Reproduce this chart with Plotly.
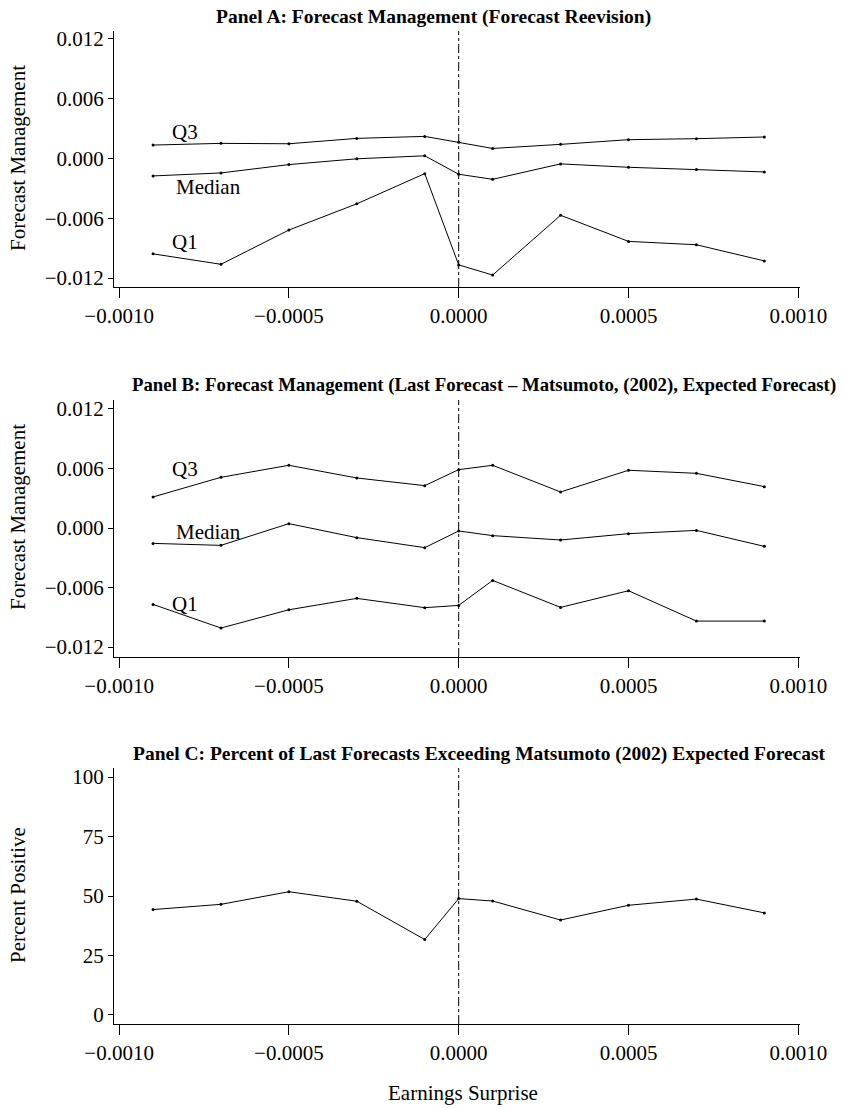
import plotly.graph_objects as go

# ---------------- data ----------------
surprise = [-0.0009, -0.0007, -0.0005, -0.0003, -0.0001, 0.0,
            0.0001, 0.0003, 0.0005, 0.0007, 0.0009]

a_q3 = [0.00135, 0.00152, 0.00148, 0.00202, 0.00222, 0.00162,
        0.00101, 0.00142, 0.00189, 0.00199, 0.00216]
a_median = [-0.00175, -0.00145, -0.00061, -0.00003, 0.00027, -0.00158,
            -0.00209, -0.00054, -0.00088, -0.00111, -0.00135]
a_q1 = [-0.00957, -0.01062, -0.00718, -0.00455, -0.00152, -0.01068,
        -0.01170, -0.00570, -0.00832, -0.00866, -0.01028]

b_q3 = [0.00313, 0.00511, 0.00632, 0.00504, 0.00427, 0.00588,
        0.00632, 0.00363, 0.00582, 0.00551, 0.00417]
b_median = [-0.00155, -0.00175, 0.00044, -0.00097, -0.00198, -0.00030,
            -0.00077, -0.00121, -0.00057, -0.00024, -0.00185]
b_q1 = [-0.00770, -0.01008, -0.00824, -0.00709, -0.00803, -0.00780,
        -0.00528, -0.00800, -0.00632, -0.00938, -0.00938]

c_pct = [44.3, 46.5, 51.8, 47.8, 31.7, 48.9, 47.9, 39.9, 46.1, 48.7, 42.9]

x_tickvals = [-0.0010, -0.0005, 0.0, 0.0005, 0.0010]
x_ticktext = ["\u22120.0010", "\u22120.0005", "0.0000", "0.0005", "0.0010"]
fm_tickvals = [0.012, 0.006, 0.0, -0.006, -0.012]
fm_ticktext = ["0.012", "0.006", "0.000", "\u22120.006", "\u22120.012"]
pct_tickvals = [100, 75, 50, 25, 0]
pct_ticktext = ["100", "75", "50", "25", "0"]

titles = ["Panel A: Forecast Management (Forecast Reevision)",
          "Panel B: Forecast Management (Last Forecast \u2013 Matsumoto, (2002), Expected Forecast)",
          "Panel C: Percent of Last Forecasts Exceeding Matsumoto (2002) Expected Forecast"]

# ---------------- figure ----------------
W, H = 842, 1108
FONT = "Liberation Serif"

def fy(px):
    return 1 - px / H

def fx(px):
    return px / W

fig = go.Figure()

line_style = dict(color="black", width=1)
marker_style = dict(color="black", size=3)

def add_series(y, xa, ya):
    fig.add_trace(go.Scatter(x=surprise, y=y, mode="lines+markers",
                             line=line_style, marker=marker_style,
                             xaxis=xa, yaxis=ya, showlegend=False,
                             hoverinfo="skip"))

for s in (a_q3, a_median, a_q1):
    add_series(s, "x", "y")
for s in (b_q3, b_median, b_q1):
    add_series(s, "x2", "y2")
add_series(c_pct, "x3", "y3")

x_dom = [fx(114), fx(800)]
x_range = [-0.001015, 0.001005]

def xaxis(anchor):
    return dict(domain=x_dom, range=x_range, anchor=anchor, automargin=False,
                tickvals=x_tickvals, ticktext=x_ticktext,
                ticks="outside", ticklen=10, tickwidth=1, tickcolor="black",
                showline=True, linecolor="black", linewidth=1,
                showgrid=False, zeroline=False,
                tickfont=dict(family=FONT, size=21, color="black"))

def yaxis(anchor, dom, rng, tv, tt):
    return dict(domain=dom, range=rng, anchor=anchor, automargin=False,
                tickvals=tv, ticktext=tt,
                ticks="outside", ticklen=5, tickwidth=1, tickcolor="black",
                showline=True, linecolor="black", linewidth=1,
                showgrid=False, zeroline=False,
                tickfont=dict(family=FONT, size=21, color="black"))

fig.update_layout(
    template="none",
    width=W, height=H,
    margin=dict(l=0, r=0, t=0, b=0, pad=0, autoexpand=False),
    paper_bgcolor="white", plot_bgcolor="white",
    xaxis=xaxis("y"),
    xaxis2=xaxis("y2"),
    xaxis3=xaxis("y3"),
    yaxis=yaxis("x", [fy(287), fy(31)], [-0.0129, 0.0128], fm_tickvals, fm_ticktext),
    yaxis2=yaxis("x2", [fy(657), fy(400)], [-0.0130, 0.0129], fm_tickvals, fm_ticktext),
    yaxis3=yaxis("x3", [fy(1024), fy(768)], [-3.8, 103.8], pct_tickvals, pct_ticktext),
)

# vertical dash-dot line at zero surprise
for xr, yr in (("x", "y domain"), ("x2", "y2 domain"), ("x3", "y3 domain")):
    fig.add_shape(type="line", xref=xr, yref=yr, x0=0, x1=0, y0=0, y1=1,
                  line=dict(color="black", width=1, dash="dashdot"))

ann = []
# panel titles
for text, cx, cy, fs in zip(titles, (433, 484, 479), (17, 385, 754), (19.5, 18.8, 19.5)):
    ann.append(dict(text="<b>" + text + "</b>", xref="paper", yref="paper",
                    x=fx(cx), y=fy(cy), xanchor="center", yanchor="middle",
                    showarrow=False, font=dict(family=FONT, size=fs, color="black")))
# y-axis titles
for text, cy in (("Forecast Management", 158), ("Forecast Management", 517),
                 ("Percent Positive", 895)):
    ann.append(dict(text=text, xref="paper", yref="paper", x=fx(18), y=fy(cy),
                    xanchor="center", yanchor="middle", textangle=-90,
                    showarrow=False, font=dict(family=FONT, size=21, color="black")))
# x-axis title
ann.append(dict(text="Earnings Surprise", xref="paper", yref="paper",
                x=fx(463), y=fy(1093), xanchor="center", yanchor="middle",
                showarrow=False, font=dict(family=FONT, size=21, color="black")))
# series labels
for xr, yr, lab, lx, ly in (("x", "y", "Q3", -0.000806, 0.00268),
                            ("x", "y", "Median", -0.000738, -0.00284),
                            ("x", "y", "Q1", -0.000806, -0.00837),
                            ("x2", "y2", "Q3", -0.000806, 0.0059),
                            ("x2", "y2", "Median", -0.000738, -0.0004),
                            ("x2", "y2", "Q1", -0.000806, -0.00763)):
    ann.append(dict(text=lab, xref=xr, yref=yr, x=lx, y=ly,
                    xanchor="center", yanchor="middle", showarrow=False,
                    font=dict(family=FONT, size=21, color="black")))

fig.update_layout(annotations=ann)

fig.write_html("out.html")
